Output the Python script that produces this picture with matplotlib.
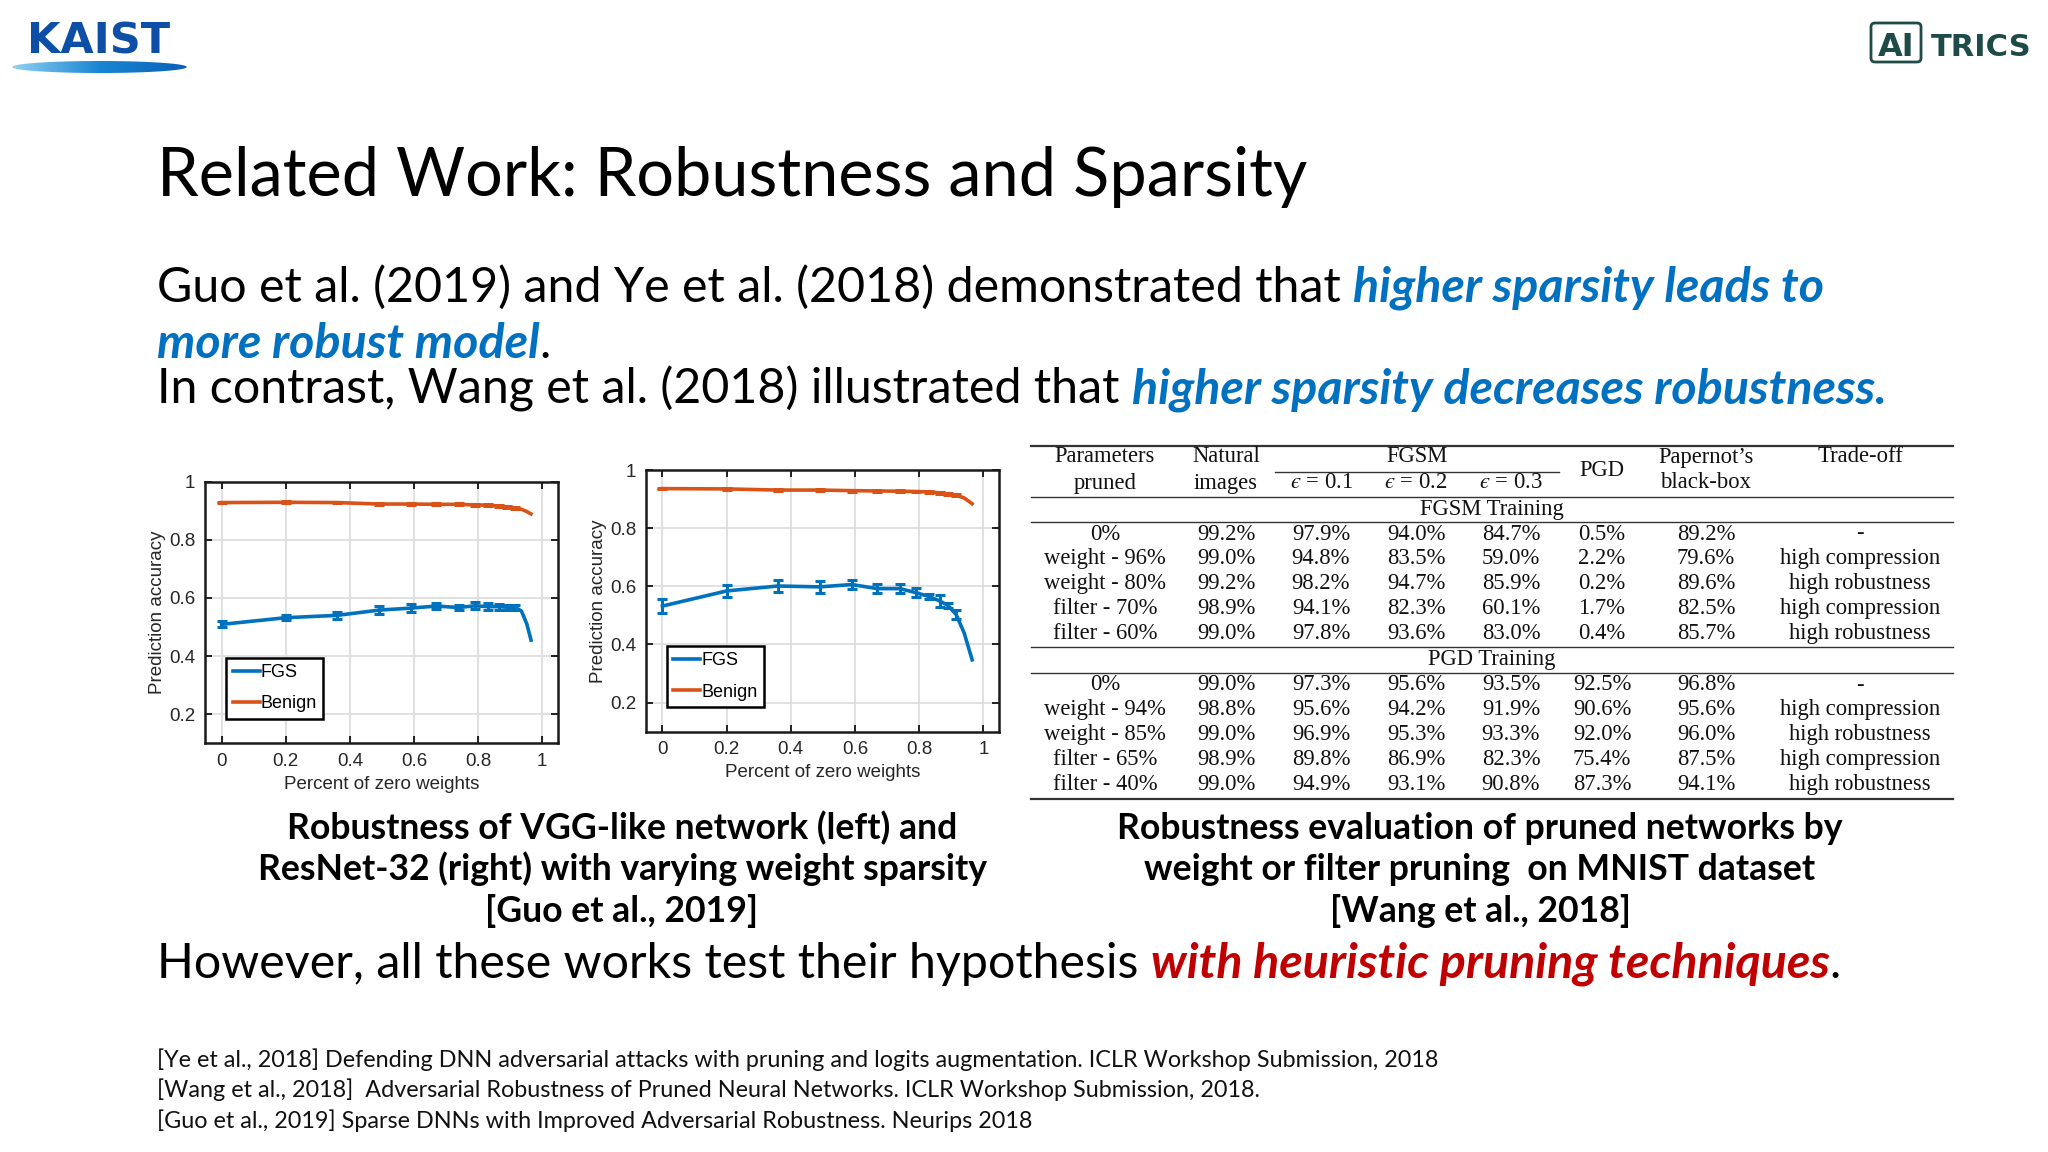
import numpy as np
import matplotlib
matplotlib.use('Agg')
import matplotlib.pyplot as plt
from matplotlib.patches import FancyBboxPatch, Polygon
from matplotlib.colors import LinearSegmentedColormap

W, H = 2048, 1152
BLUE = '#0070c0'
RED = '#c00000'
C_FGS = '#0072bd'
C_BEN = '#d95319'
SANS = 'Lato'

# ---- plot data ----
sparsity = [0, 0.2, 0.36, 0.49, 0.59, 0.67, 0.74, 0.79, 0.83, 0.865, 0.89, 0.915]
vgg_fgs = [0.509, 0.532, 0.540, 0.558, 0.565, 0.572, 0.567, 0.573, 0.570, 0.570, 0.568, 0.568]
vgg_fgs_err = [0.010, 0.008, 0.012, 0.015, 0.015, 0.010, 0.010, 0.012, 0.012, 0.010, 0.008, 0.008]
vgg_ben = [0.928, 0.929, 0.928, 0.923, 0.923, 0.922, 0.922, 0.920, 0.919, 0.916, 0.913, 0.910]
vgg_tail_x = [0.935, 0.952, 0.965]
vgg_fgs_tail = [0.555, 0.510, 0.455]
vgg_ben_tail = [0.905, 0.897, 0.889]

res_fgs = [0.532, 0.584, 0.601, 0.598, 0.606, 0.592, 0.592, 0.578, 0.565, 0.549, 0.534, 0.503]
res_fgs_err = [0.025, 0.020, 0.020, 0.020, 0.015, 0.015, 0.015, 0.015, 0.010, 0.020, 0.010, 0.015]
res_ben = [0.936, 0.935, 0.931, 0.931, 0.929, 0.928, 0.927, 0.926, 0.925, 0.921, 0.917, 0.913]
res_tail_x = [0.94, 0.965]
res_fgs_tail = [0.440, 0.347]
res_ben_tail = [0.904, 0.884]
ben_err = 0.003

xticks = [0, 0.2, 0.4, 0.6, 0.8, 1]
xtick_labels = ['0', '0.2', '0.4', '0.6', '0.8', '1']
yticks = [0.2, 0.4, 0.6, 0.8, 1]
ytick_labels = ['0.2', '0.4', '0.6', '0.8', '1']

# ---- table data ----
head_top = ['Parameters', 'Natural', '', '', '', '', 'Papernot\u2019s', 'Trade-off']
head_bot = ['pruned', 'images', '$\u03f5$ = 0.1', '$\u03f5$ = 0.2', '$\u03f5$ = 0.3', '', 'black-box', '']
fgsm_rows = [
    ['0%', '99.2%', '97.9%', '94.0%', '84.7%', '0.5%', '89.2%', '-'],
    ['weight - 96%', '99.0%', '94.8%', '83.5%', '59.0%', '2.2%', '79.6%', 'high compression'],
    ['weight - 80%', '99.2%', '98.2%', '94.7%', '85.9%', '0.2%', '89.6%', 'high robustness'],
    ['filter - 70%', '98.9%', '94.1%', '82.3%', '60.1%', '1.7%', '82.5%', 'high compression'],
    ['filter - 60%', '99.0%', '97.8%', '93.6%', '83.0%', '0.4%', '85.7%', 'high robustness'],
]
pgd_rows = [
    ['0%', '99.0%', '97.3%', '95.6%', '93.5%', '92.5%', '96.8%', '-'],
    ['weight - 94%', '98.8%', '95.6%', '94.2%', '91.9%', '90.6%', '95.6%', 'high compression'],
    ['weight - 85%', '99.0%', '96.9%', '95.3%', '93.3%', '92.0%', '96.0%', 'high robustness'],
    ['filter - 65%', '98.9%', '89.8%', '86.9%', '82.3%', '75.4%', '87.5%', 'high compression'],
    ['filter - 40%', '99.0%', '94.9%', '93.1%', '90.8%', '87.3%', '94.1%', 'high robustness'],
]

references = [
    '[Ye et al., 2018] Defending DNN adversarial attacks with pruning and logits augmentation. ICLR Workshop Submission, 2018',
    '[Wang et al., 2018]  Adversarial Robustness of Pruned Neural Networks. ICLR Workshop Submission, 2018.',
    '[Guo et al., 2019] Sparse DNNs with Improved Adversarial Robustness. Neurips 2018',
]

plt.rcParams['mathtext.fontset'] = 'stix'
fig = plt.figure(figsize=(W / 100, H / 100), dpi=100)
ax0 = fig.add_axes([0, 0, 1, 1])
ax0.set_xlim(0, W)
ax0.set_ylim(H, 0)
ax0.axis('off')
R = fig.canvas.get_renderer()


def width_of(s, size, **st):
    t = ax0.text(0, 0, s, fontsize=size, **st)
    w = t.get_window_extent(R).width
    t.remove()
    return w


def fit(s, target, **st):
    return 30 * target / width_of(s, 30, **st)


def rich(x, y, parts, size=None, width=None):
    if width is not None:
        full = 0
        for t, st in parts:
            full += width_of(t.rstrip() or 'x', 30, **st)
            n = len(t) - len(t.rstrip())
            full += n * (width_of('x x', 30, **st) - width_of('xx', 30, **st))
        size = 30 * width / full
    cx = x
    for t, st in parts:
        s = t.rstrip()
        a = ax0.text(cx, y, s, fontsize=size, va='baseline', ha='left', **st)
        cx = a.get_window_extent(R).x1
        n = len(t) - len(s)
        cx += n * (width_of('x x', size, **st) - width_of('xx', size, **st))
    return size


reg = dict(family=SANS, color='black')
bi_blue = dict(family=SANS, color=BLUE, weight='bold', style='italic')
bi_red = dict(family=SANS, color=RED, weight='bold', style='italic')

# ---- logos ----
ax0.text(27, 53, 'KAIST', fontsize=31, family='DejaVu Sans', weight='bold', color='#0d4ea6',
         va='baseline', ha='left')
lx = np.linspace(12, 187, 100)
bulge = 6 * np.sqrt(np.clip(1 - ((lx - 99.5) / 87.5) ** 2, 0, 1))
lens = Polygon(np.column_stack([np.r_[lx, lx[::-1]], np.r_[67 - bulge, (67 + bulge)[::-1]]]),
               closed=True, facecolor='none', edgecolor='none')
ax0.add_patch(lens)
grad = ax0.imshow(np.linspace(0, 1, 256)[None, :], extent=[12, 187, 74, 60], aspect='auto',
                  cmap=LinearSegmentedColormap.from_list('k', ['#8fd0f2', '#1a86d2', '#0a5fb8']))
grad.set_clip_path(lens)

ax0.add_patch(FancyBboxPatch((1871, 23), 50, 39, boxstyle='round,pad=0,rounding_size=4',
                             facecolor='none', edgecolor='#1e4b47', lw=2))
ax0.text(1896, 56, 'AI', fontsize=23, family='DejaVu Sans', weight='bold', color='#1e4b47',
         ha='center', va='baseline')
ax0.text(1931, 56, 'TRICS', fontsize=22, family='DejaVu Sans', weight='bold', color='#1e4b47',
         ha='left', va='baseline')

# ---- title and body text ----
rich(157, 196.5, [('Related Work: Robustness and Sparsity', reg)], width=1150)
body = rich(157, 301.5, [('Guo et al. (2019) and Ye et al. (2018) demonstrated that ', reg),
                         ('higher sparsity leads to', bi_blue)], width=1669)
rich(157, 358, [('more robust model', bi_blue), ('.', reg)], size=body)
rich(157, 404, [('In contrast, Wang et al. (2018) illustrated that ', reg),
                ('higher sparsity decreases robustness.', bi_blue)], size=body)
rich(157, 978, [('However, all these works test their hypothesis ', reg),
                ('with heuristic pruning techniques', bi_red), ('.', reg)], size=body)

cap_size = fit('Robustness of VGG-like network (left) and', 670, family=SANS, weight='bold')
for i, line in enumerate(['Robustness of VGG-like network (left) and',
                          'ResNet-32 (right) with varying weight sparsity',
                          '[Guo et al., 2019]']):
    ax0.text(622, 839 + 41.5 * i, line, fontsize=cap_size, family=SANS, weight='bold',
             ha='center', va='baseline')
for i, line in enumerate(['Robustness evaluation of pruned networks by',
                          'weight or filter pruning  on MNIST dataset',
                          '[Wang et al., 2018]']):
    ax0.text(1480, 839 + 41.5 * i, line, fontsize=cap_size, family=SANS, weight='bold',
             ha='center', va='baseline')

ref_size = fit(references[0], 1281, family=SANS)
for i, line in enumerate(references):
    ax0.text(157, 1067 + 30.3 * i, line, fontsize=ref_size, family=SANS, color='#111111',
             ha='left', va='baseline')

# ---- table ----
col_x = [1105, 1226, 1321, 1416, 1511, 1602, 1706, 1860]
tfont = dict(family=['Liberation Serif', 'DejaVu Serif'], fontsize=16.3, color='#111111',
             ha='center', va='center')
rule_c = '#333333'
tl, tr = 1031, 1953
ax0.plot([tl, tr], [446, 446], color=rule_c, lw=1.6)
ax0.plot([1275, 1559], [472, 472], color=rule_c, lw=1.0)
for yy in [497, 522, 647, 673]:
    ax0.plot([tl, tr], [yy, yy], color=rule_c, lw=1.0)
ax0.plot([tl, tr], [798.5, 798.5], color=rule_c, lw=1.6)
for cx, t in zip(col_x, head_top):
    if t:
        ax0.text(cx, 457, t, **tfont)
for cx, t in zip(col_x, head_bot):
    if t:
        ax0.text(cx, 483, t, **tfont)
ax0.text(1417, 457, 'FGSM', **tfont)
ax0.text(col_x[5], 470, 'PGD', **tfont)
ax0.text(1492, 509, 'FGSM Training', **tfont)
ax0.text(1492, 660, 'PGD Training', **tfont)
for r, row in enumerate(fgsm_rows):
    for cx, t in zip(col_x, row):
        ax0.text(cx, 534 + 24.8 * r, t, **tfont)
for r, row in enumerate(pgd_rows):
    for cx, t in zip(col_x, row):
        ax0.text(cx, 685 + 24.8 * r, t, **tfont)


# ---- the two sparsity plots ----
def sparsity_plot(rect, fgs, fgs_err, ben, tail_x, fgs_tail, ben_tail):
    ax = fig.add_axes(rect)
    ax.plot(sparsity + tail_x, fgs + fgs_tail, color=C_FGS, lw=2.6, label='FGS')
    ax.plot(sparsity + tail_x, ben + ben_tail, color=C_BEN, lw=2.6, label='Benign')
    ax.errorbar(sparsity, fgs, yerr=fgs_err, fmt='none', ecolor=C_FGS, elinewidth=2.2,
                capsize=3.5, capthick=2.2)
    ax.errorbar(sparsity, ben, yerr=ben_err, fmt='none', ecolor=C_BEN, elinewidth=2.2,
                capsize=3.5, capthick=2.2)
    ax.set_xlim(-0.052, 1.05)
    ax.set_ylim(0.1, 1.0)
    ax.set_xticks(xticks)
    ax.set_xticklabels(xtick_labels)
    ax.set_yticks(yticks)
    ax.set_yticklabels(ytick_labels)
    ax.grid(True, color='#dcdcdc', lw=1.2)
    ax.set_axisbelow(True)
    ax.tick_params(direction='in', length=5, width=1.2, top=True, right=True,
                   labelsize=13.5, labelcolor='#262626', pad=7)
    for sp in ax.spines.values():
        sp.set_linewidth(1.8)
        sp.set_color('#1a1a1a')
    ax.set_xlabel('Percent of zero weights', fontsize=13.5, color='#262626', family='Liberation Sans')
    ax.set_ylabel('Prediction accuracy', fontsize=13.5, color='#262626', family='Liberation Sans',
                  labelpad=2)
    for lab in ax.get_xticklabels() + ax.get_yticklabels():
        lab.set_family('Liberation Sans')
    leg = ax.legend(loc='lower left', bbox_to_anchor=(0.06, 0.094), borderaxespad=0,
                    fancybox=False, edgecolor='black', framealpha=1,
                    handlelength=1.5, handletextpad=0.05, borderpad=0.35, labelspacing=0.8,
                    prop={'family': 'Liberation Sans', 'size': 13})
    leg.get_frame().set_linewidth(1.8)
    return ax


sparsity_plot([0.1001, 0.3548, 0.1725, 0.2271], vgg_fgs, vgg_fgs_err, vgg_ben,
              vgg_tail_x, vgg_fgs_tail, vgg_ben_tail)
sparsity_plot([0.3153, 0.3649, 0.1727, 0.2271], res_fgs, res_fgs_err, res_ben,
              res_tail_x, res_fgs_tail, res_ben_tail)

fig.savefig('out.png', dpi=100)
